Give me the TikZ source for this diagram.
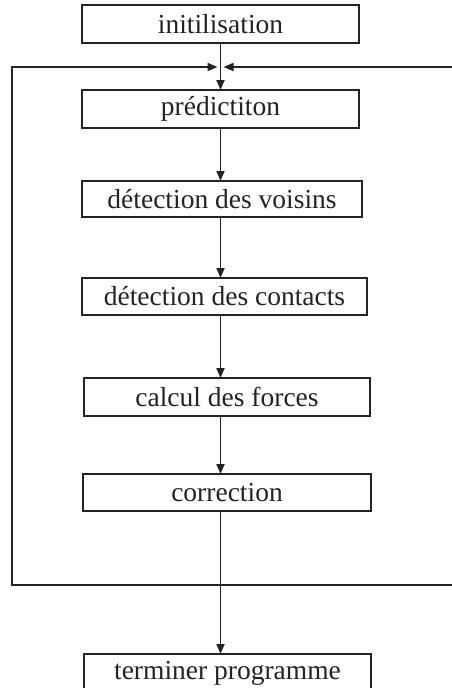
\documentclass[tikz,border=0pt]{standalone}
\usepackage{fontspec}
\setmainfont{Liberation Serif}
\usetikzlibrary{arrows.meta}
\definecolor{ink}{RGB}{35,35,35}
\begin{document}
\begin{tikzpicture}[x=1pt,y=-1pt, line width=1.8pt, ink,
  box/.style={draw=ink, line width=1.8pt, inner sep=0pt, outer sep=0pt, anchor=north west,
    font=\fontsize{27.5}{30}\selectfont, text=ink},
  arr/.style={-{Triangle[length=10pt,width=8pt]}}]
\useasboundingbox (0,0) rectangle (452,688);
\node[box, minimum width=277pt, minimum height=38pt] (init) at (82,5) {initilisation};
\node[box, minimum width=277pt, minimum height=38pt] (pred) at (82,90) {prédictiton};
\node[box, minimum width=280pt, minimum height=36pt] (vois) at (82,181) {détection des voisins};
\node[box, minimum width=285pt, minimum height=37pt] (cont) at (82,278) {détection des contacts};
\node[box, minimum width=286pt, minimum height=38pt] (calc) at (84,378) {calcul des forces};
\node[box, minimum width=288pt, minimum height=37pt] (corr) at (83,474) {correction};
\node[box, minimum width=287pt, minimum height=38pt] (term) at (84,654) {terminer programme};
\coordinate (j) at (220.5,67);
\coordinate (jl) at (217.5,67);
\coordinate (jr) at (223.5,67);
\coordinate (tl) at (12,67);
\coordinate (tr) at (452,67);
\coordinate (bl) at (12,585);
\coordinate (br) at (452,585);
\draw[arr] (init.south -| j) -- (pred.north -| j);
\draw[arr] (pred.south -| j) -- (vois.north -| j);
\draw[arr] (vois.south -| j) -- (cont.north -| j);
\draw[arr] (cont.south -| j) -- (calc.north -| j);
\draw[arr] (calc.south -| j) -- (corr.north -| j);
\draw[arr] (corr.south -| j) -- (term.north -| j);
\draw[arr] (br) -- (bl) -- (tl) -- (jl);
\draw[arr] (tr) -- (jr);
\end{tikzpicture}
\end{document}
